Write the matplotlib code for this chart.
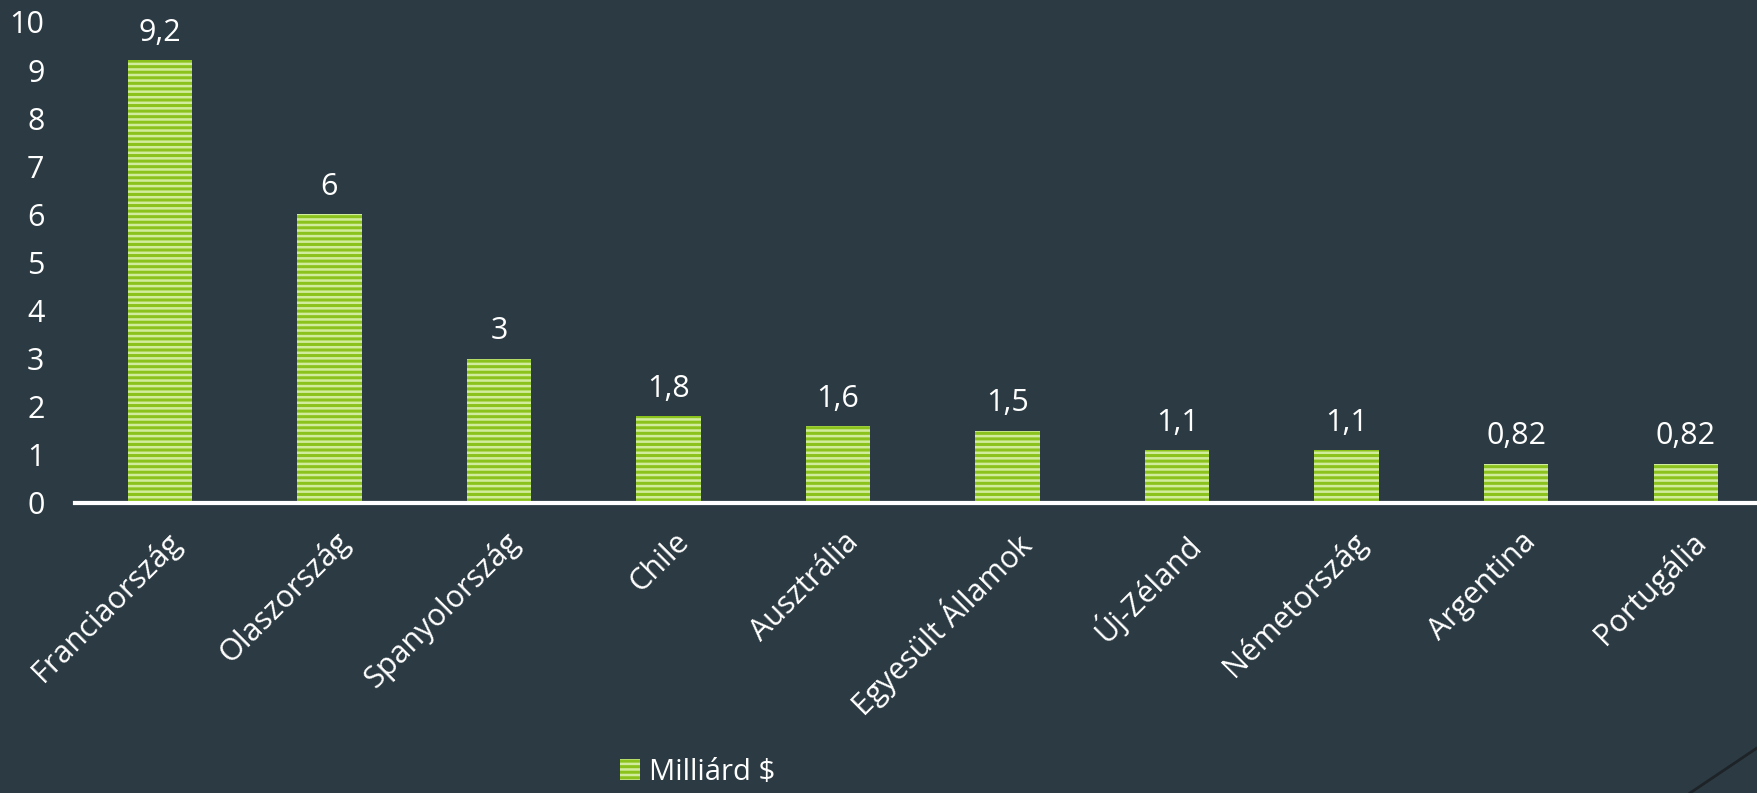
import matplotlib.pyplot as plt
import matplotlib.transforms as mtransforms
from matplotlib.lines import Line2D

countries = ['Franciaország', 'Olaszország', 'Spanyolország', 'Chile', 'Ausztrália',
             'Egyesült Államok', 'Új-Zéland', 'Németország', 'Argentina', 'Portugália']
values = [9.2, 6, 3, 1.8, 1.6, 1.5, 1.1, 1.1, 0.82, 0.82]
value_labels = ['9,2', '6', '3', '1,8', '1,6', '1,5', '1,1', '1,1', '0,82', '0,82']
y_ticks = list(range(0, 11))
series_name = 'Milliárd $'

bg = '#2c3b43'
bar_face = '#8cc21c'
stripe = '#d2ec9e'

plt.rcParams['font.family'] = ['Open Sans', 'DejaVu Sans']
plt.rcParams['hatch.linewidth'] = 1.8
plt.rcParams['hatch.color'] = stripe

fig = plt.figure(figsize=(17.57, 7.93), dpi=100, facecolor=bg)
ax = fig.add_axes([0.0427, 0.3657, 0.9573, 0.6066])
ax.set_facecolor(bg)

x = list(range(len(countries)))
bars = ax.bar(x, values, width=0.38, color=bar_face, edgecolor=stripe,
              hatch='---', linewidth=0, label=series_name)

for xi, v, lab in zip(x, values, value_labels):
    ax.annotate(lab, (xi, v), xytext=(0, 9), textcoords='offset points',
                ha='center', va='bottom', color='white', fontsize=22)

ax.set_xlim(-0.5, 9.42)
ax.set_ylim(0, 10)
ax.set_yticks(y_ticks)
ax.set_yticklabels([str(t) for t in y_ticks])
ax.tick_params(axis='y', length=0, pad=22, labelsize=22, colors='white')
ax.set_xticks(x)
ax.set_xticklabels(countries, rotation=45, ha='right', va='top', rotation_mode='anchor')
ax.tick_params(axis='x', length=0, pad=17, labelsize=22, colors='white')
offset = mtransforms.ScaledTranslation(5 / 100, 0, fig.dpi_scale_trans)
for lbl in ax.get_xticklabels():
    lbl.set_transform(lbl.get_transform() + offset)

for s in ['top', 'right', 'left']:
    ax.spines[s].set_visible(False)
ax.spines['bottom'].set_color('white')
ax.spines['bottom'].set_linewidth(3)

leg = fig.legend(handles=[bars], labels=[series_name], loc='center',
                 bbox_to_anchor=(0.397, 0.026), frameon=False, fontsize=21,
                 handlelength=0.7, handleheight=0.7, handletextpad=0.3,
                 labelcolor='white')

fig.add_artist(Line2D([1690 / 1757, 1.0], [0.0, 1 - 748 / 793], transform=fig.transFigure,
                      color='#1d2327', linewidth=2))

fig.savefig('out.png', dpi=100, facecolor=bg)
